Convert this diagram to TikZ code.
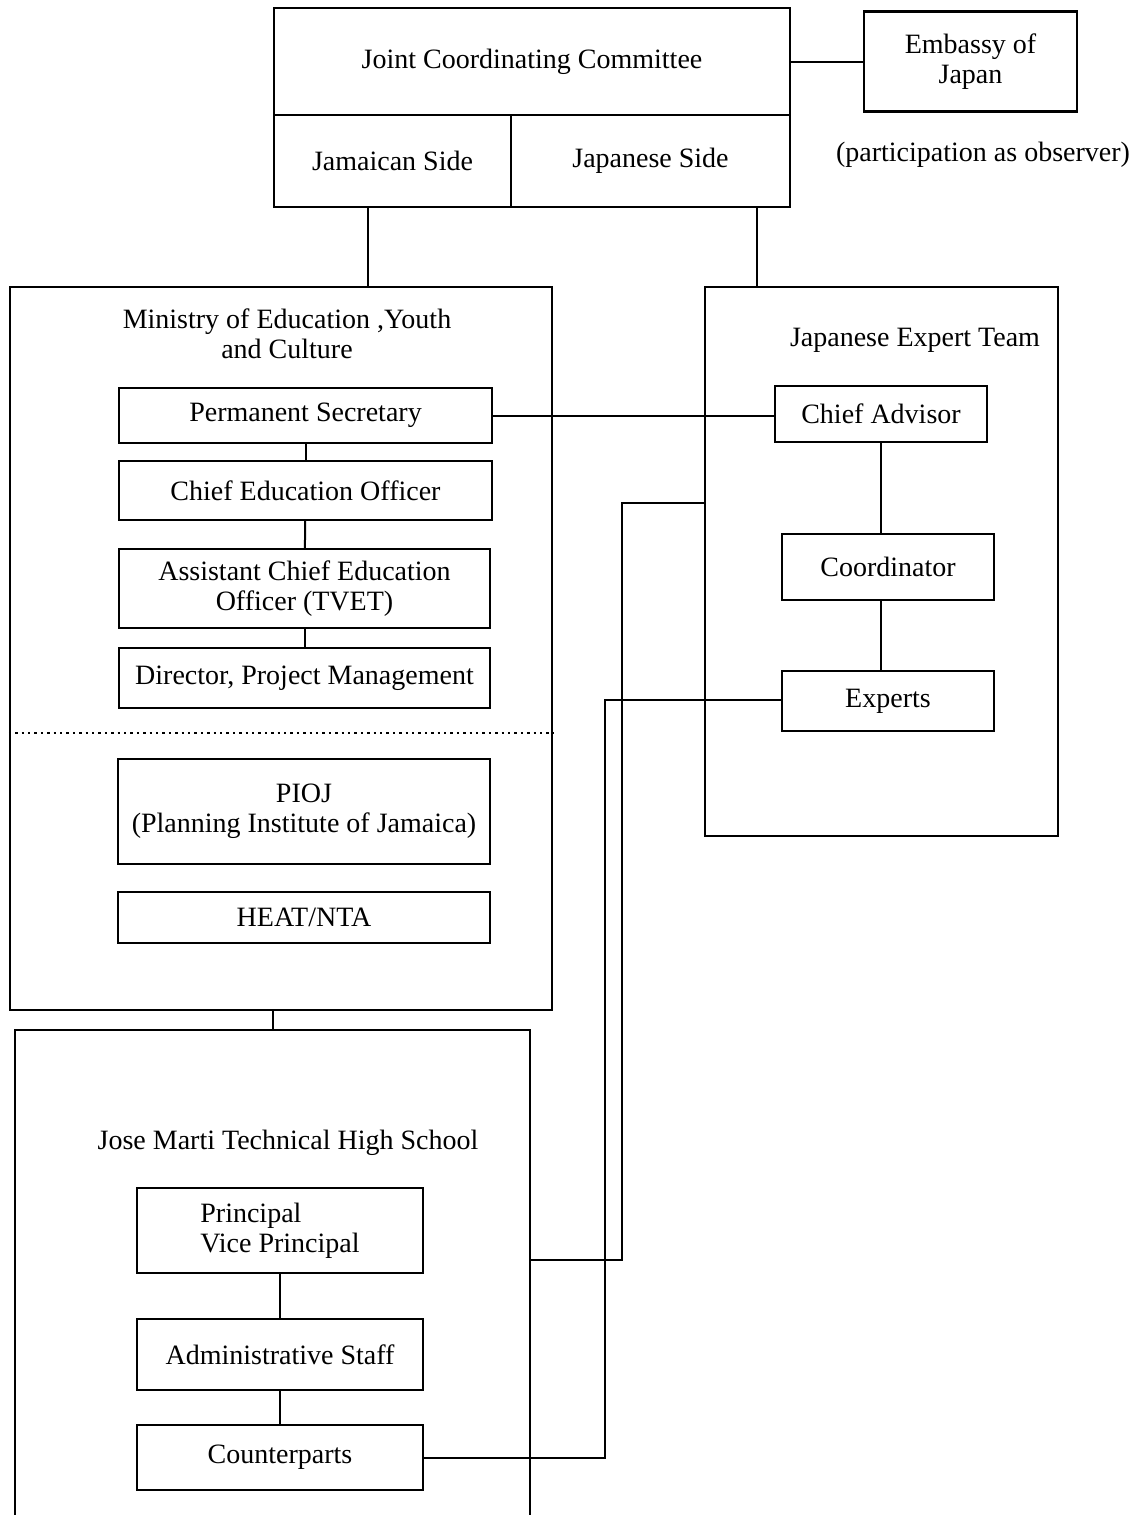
\documentclass[tikz,border=0pt]{standalone}
\usepackage{fontspec}
\setmainfont{Liberation Serif}
\usetikzlibrary{positioning,calc}

\begin{document}
\begin{tikzpicture}[x=0.5pt,y=-0.5pt,
    font=\fontsize{14}{15}\selectfont,
    box/.style={draw, line width=1.2pt, inner sep=2pt, align=center},
    txt/.style={align=center, inner sep=0pt},
    link/.style={line width=1pt},
    ]
\useasboundingbox (0,0) rectangle (1142,1515);
\clip (0,0) rectangle (1142,1515);

% committee and embassy
\node[box, minimum width=258pt, minimum height=53.5pt] (jcc) at (532,61.5) {Joint Coordinating Committee};
\node[box, minimum width=118.5pt, minimum height=46pt] (jam) at (392.5,161) {Jamaican Side};
\node[box, minimum width=139.5pt, minimum height=46pt] (jap) at (650.5,161) {Japanese Side};
\node[box, minimum width=106.5pt, minimum height=50pt] (emb) at (970.5,61.5) {Embassy of\\Japan};
\node[txt] (obs) at (983,155) {(participation as observer)};
\draw[link] (jcc.east) -- (jcc.east -| emb.west);

% ministry
\node[box, minimum width=271pt, minimum height=361.5pt] (mini) at (281,648.5) {};
\node[txt] (minititle) at (287,334) {Ministry of Education ,Youth\\and Culture};
\node[box, minimum width=186.5pt, minimum height=27.5pt] (ps) at (305.5,415.5) {Permanent Secretary};
\node[box, minimum width=186.5pt, minimum height=29.5pt] (ceo) at (305.5,490.5) {Chief Education Officer};
\node[box, minimum width=185.5pt, minimum height=39.5pt] (aceo) at (304.5,588.5) {Assistant Chief Education\\Officer (TVET)};
\node[box, minimum width=185.5pt, minimum height=30pt] (dir) at (304.5,678) {Director, Project Management};
\draw[dotted, line width=1.2pt] (mini.west |- 0,733) -- (mini.east |- 0,733);
\node[box, minimum width=186pt, minimum height=52.5pt] (pioj) at (304,811.5) {PIOJ\\(Planning Institute of Jamaica)};
\node[box, minimum width=186pt, minimum height=25.5pt] (heat) at (304,917.5) {HEAT/NTA};
\draw[link] (ps) -- (ceo);
\draw[link] (ceo) -- (aceo);
\draw[link] (aceo) -- (dir);

% school
\node[box, minimum width=257.5pt, minimum height=260pt] (school) at (272.5,1290) {};
\node[txt] (schooltitle) at (288,1143) {Jose Marti Technical High School};
\node[box, align=left, minimum width=143pt, minimum height=42.5pt] (prin) at (280,1230.5) {Principal\\Vice Principal};
\node[box, minimum width=143pt, minimum height=35.5pt] (adm) at (280,1354.5) {Administrative Staff};
\node[box, minimum width=143pt, minimum height=32.5pt] (cp) at (280,1457.5) {Counterparts};
\draw[link] (prin) -- (adm);
\draw[link] (adm) -- (cp);

% expert team
\node[box, minimum width=176.5pt, minimum height=274.5pt] (team) at (881.5,561.5) {};
\node[txt] (teamtitle) at (915,340) {Japanese Expert Team};
\node[box, minimum width=106pt, minimum height=28pt] (ca) at (881,414) {Chief Advisor};
\node[box, minimum width=106pt, minimum height=33pt] (coord) at (888,567) {Coordinator};
\node[box, minimum width=106pt, minimum height=30pt] (exp) at (888,701) {Experts};
\draw[link] (ca.south) -- (ca.south |- coord.north);
\draw[link] (coord.south -| ca.south) -- (exp.north -| ca.south);

% links between blocks
\draw[link] ([xshift=-12.5pt]jam.south) -- ([xshift=-12.5pt]jam.south |- mini.north);
\draw[link] ([xshift=53pt]jap.south) -- ([xshift=53pt]jap.south |- team.north);
\draw[link] (school.north) -- (school.north |- mini.south);
\draw[link] (ps.east) -- (ps.east -| ca.west);
\coordinate (k1) at (622,1260);
\coordinate (k2) at (622,503);
\draw[link] (k1 -| school.east) -- (k1) -- (k2) -- (k2 -| team.west);
\coordinate (k3) at (605,700);
\draw[link] (cp.east) -- (cp.east -| k3) -- (k3) -- (k3 -| exp.west);

\end{tikzpicture}
\end{document}
